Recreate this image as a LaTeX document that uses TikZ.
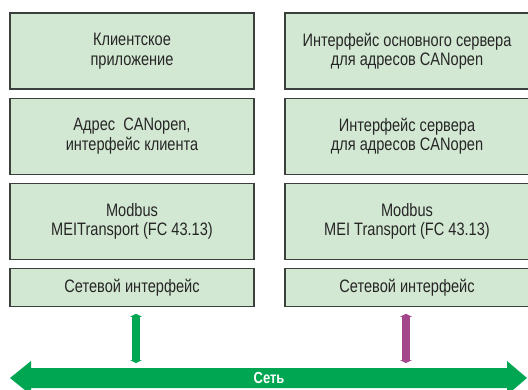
\documentclass[tikz,border=0pt]{standalone}
\usepackage{fontspec}
\setmainfont{Liberation Sans}[FakeStretch=0.81]
\usepackage{tikz}
\usetikzlibrary{positioning,arrows.meta}
\definecolor{ink}     {HTML}{262626}
\definecolor{boxline} {HTML}{3A403C}
\definecolor{boxfill} {HTML}{D3E8D3}
\definecolor{netgreen}{HTML}{00A651}
\definecolor{plum}    {HTML}{A3468A}
\tikzset{
  % --- nodes
  layer/.style  = {draw=boxline, fill=boxfill, line width=1.1pt, align=center,
                   minimum width=244pt, minimum height=76pt, inner sep=0pt,
                   text=ink, font=\fontsize{18}{19.5}\selectfont},
  netif/.style  = {layer, minimum height=38pt},
  nettext/.style= {text=white, font=\fontsize{16}{18}\selectfont\bfseries, inner sep=0pt},
  % --- edges
  link/.style   = {line width=7.5pt, {Triangle[width=12pt,length=3pt]}-{Triangle[width=12pt,length=3pt]},
                   shorten <=7pt, shorten >=5pt},
  linkg/.style  = {link, draw=netgreen, fill=netgreen},
  linkp/.style  = {link, draw=plum, fill=plum},
}
\begin{document}
\begin{tikzpicture}[x=1pt,y=-1pt,node distance=8pt]
  \useasboundingbox (0,0) rectangle (528,389);
  \clip (0,0) rectangle (528,389);

  % client stack
  \node[layer] (cl1) at (132,51) {Клиентское\\приложение};
  \node[layer, below=of cl1] (cl2) {Адрес~ CANopen,\\интерфейс клиента};
  \node[layer, below=of cl2] (cl3) {Modbus\\MEITransport (FC 43.13)};
  \node[netif, below=of cl3] (cl4) {Сетевой интерфейс};

  % server stack
  \node[layer] (sv1) at (407,51) {Интерфейс основного сервера\\для адресов CANopen};
  \node[layer, below=of sv1] (sv2) {Интерфейс сервера\\для адресов CANopen};
  \node[layer, below=of sv2] (sv3) {Modbus\\MEI Transport (FC 43.13)};
  \node[netif, below=of sv3] (sv4) {Сетевой интерфейс};

  % the network
  \fill[netgreen] (10,378) -- (31,361) -- (31,368) -- (507,368) -- (507,361)
    -- (527,378) -- (507,395) -- (507,388) -- (31,388) -- (31,395) -- cycle;
  \node[nettext] (net) at (269,378) {Сеть};
  \coordinate (busL) at (136,368);
  \coordinate (busR) at (406,368);

  % links to the network
  \draw[linkg] (cl4.south -| busL) -- (busL);
  \draw[linkp] (sv4.south -| busR) -- (busR);
\end{tikzpicture}
\end{document}
